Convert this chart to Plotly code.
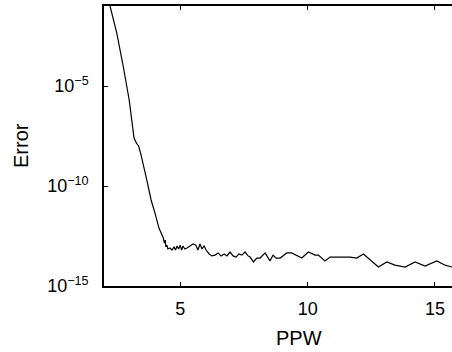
import plotly.graph_objects as go

ppw = [2.00, 2.236, 2.50, 2.76, 2.99, 3.18, 3.21, 3.28, 3.36, 3.44, 3.68, 3.85, 4.00, 4.16,
       4.33, 4.37, 4.41, 4.43, 4.47, 4.51, 4.59, 4.67, 4.75, 4.81, 4.87, 4.93, 4.99, 5.05,
       5.10, 5.18, 5.26, 5.38, 5.50, 5.61, 5.69, 5.77, 5.85, 5.93, 6.01, 6.13, 6.24, 6.36,
       6.48, 6.60, 6.72, 6.83, 6.95, 7.07, 7.19, 7.30, 7.42, 7.54, 7.66, 7.74, 7.87, 8.00,
       8.13, 8.33, 8.52, 8.64, 8.76, 8.92, 9.18, 9.37, 9.77, 10.03, 10.29, 10.42, 10.68,
       10.88, 11.67, 11.93, 12.19, 12.78, 13.11, 13.43, 13.83, 14.22, 14.61, 15.07, 15.40,
       15.67, 16.00]

error = [1.6e0, 1.0e-1, 4.5e-3, 8.9e-5, 2.0e-6, 2.5e-8, 2.0e-8, 1.35e-8, 1.0e-8, 4.3e-9,
         2.0e-10, 2.0e-11, 4.5e-12, 7.9e-13,
         2.5e-13, 1.4e-13, 2.0e-13, 8.9e-14, 1.1e-13, 7.1e-14, 7.9e-14, 6.3e-14, 8.9e-14,
         6.3e-14, 1.0e-13, 7.1e-14, 1.1e-13, 6.3e-14,
         1.0e-13, 7.1e-14, 7.9e-14, 1.0e-13, 1.26e-13, 1.1e-13, 6.3e-14, 1.26e-13, 7.1e-14,
         1.0e-13, 6.3e-14, 4.0e-14, 3.2e-14, 3.5e-14,
         4.5e-14, 3.2e-14, 4.0e-14, 3.2e-14, 5.0e-14, 3.2e-14, 2.8e-14, 4.0e-14, 3.5e-14,
         5.0e-14, 3.2e-14, 2.8e-14, 1.6e-14, 2.5e-14,
         2.5e-14, 4.5e-14, 1.8e-14, 3.5e-14, 2.5e-14, 2.5e-14, 4.5e-14, 4.5e-14, 2.5e-14,
         5.0e-14, 3.5e-14, 3.5e-14, 1.8e-14,
         2.8e-14, 2.8e-14, 2.5e-14, 4.0e-14, 8.9e-15, 1.6e-14, 1.1e-14, 8.9e-15, 1.6e-14,
         1.0e-14, 1.8e-14, 1.1e-14,
         8.9e-15, 1.0e-14]

y_tickvals = [1e-15, 1e-10, 1e-5]
y_ticktext = ["10<sup>\u221215</sup>", "10<sup>\u221210</sup>", "10<sup>\u22125</sup>"]
x_tickvals = [5, 10, 15]
x_ticktext = ["5", "10", "15"]

FONT = "Liberation Sans, Arial, Helvetica, sans-serif"

fig = go.Figure()
fig.add_trace(go.Scatter(x=ppw, y=error, mode="lines",
                         line=dict(color="black", width=1.2), showlegend=False))

fig.update_layout(
    width=452, height=352,
    margin=dict(l=104, r=0, t=6, b=66),
    paper_bgcolor="white", plot_bgcolor="white",
    font=dict(family=FONT, size=18, color="black"),
    xaxis=dict(range=[2, 15.67], tickvals=x_tickvals, ticktext=x_ticktext,
               showline=True, linecolor="black", linewidth=1.5, mirror="allticks",
               ticks="inside", ticklen=4, tickcolor="black", tickwidth=1,
               showgrid=False, zeroline=False, ticklabelstandoff=6),
    yaxis=dict(type="log", range=[-15, -1], tickvals=y_tickvals, ticktext=y_ticktext,
               showline=True, linecolor="black", linewidth=1.5, mirror=False,
               ticks="inside", ticklen=4, tickcolor="black", tickwidth=1,
               showgrid=False, zeroline=False, ticklabelstandoff=10),
    annotations=[
        dict(text="PPW", xref="paper", yref="paper", x=(299 - 104) / 348, y=-52 / 280,
             xanchor="center", yanchor="middle", showarrow=False,
             font=dict(family=FONT, size=20, color="black")),
        dict(text="Error", xref="paper", yref="paper", x=-83 / 348, y=0.5, textangle=-90,
             xanchor="center", yanchor="middle", showarrow=False,
             font=dict(family=FONT, size=20, color="black")),
    ],
)

fig.write_html("out.html")
